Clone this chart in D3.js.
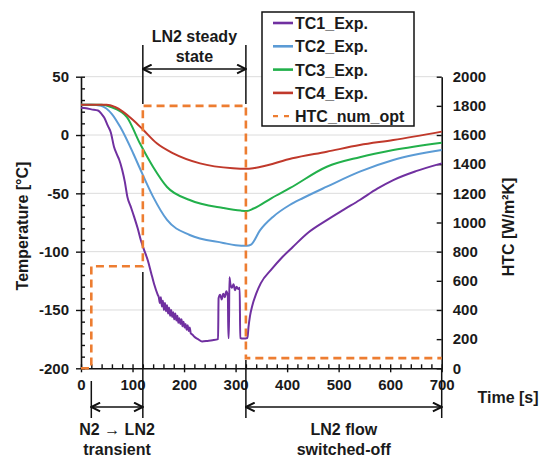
<!DOCTYPE html>
<html>
<head>
<meta charset="utf-8">
<script src="https://cdn.jsdelivr.net/npm/d3@7"></script>
<style>
  body { margin: 0; background: #fff; }
  text { font-family: "Liberation Sans", Arial, sans-serif; font-weight: bold; fill: #1a1a1a; }
</style>
</head>
<body>
<script>
// [time s, temperature degC]
var tc1 = [[0,23.4],[10,23],[20,22],[33,21],[40,18],[45,15],[52,8],[58,2],[64,-10],[70,-17],[74,-21],
  [80,-30],[85,-40],[90,-53],[97,-62],[103,-70],[110,-80],[116,-90],[122,-98],[130,-108],[136,-118],
  [142,-128],[149,-137],[151,-139],[153,-144],[155,-139],[157,-147],[159,-142],[161,-150],[163,-144],
  [165,-151],[167,-146],[169,-153],[171,-148],[173,-155],[175,-150],[177,-156],[179,-152],[181,-158],
  [183,-153],[185,-159],[187,-155],[189,-161],[191,-157],[193,-162],[195,-158],[197,-164],[199,-160],
  [201,-165],[203,-162],[205,-167],[207,-163],[209,-168],[211,-165],[213,-170],[216,-171],[220,-173],
  [227,-175],[235,-177],[246,-176.5],[255,-176],[266,-175],[267,-140],[270,-137],[273,-141],[276,-136],
  [279,-139],[282,-134],[285,-138],[286,-174],[287,-174],[288,-122],[290,-128],[293,-131],[296,-128],
  [299,-133],[302,-130],[305,-132],[308,-131],[309,-174],[315,-174.5],[323,-174],[325,-165],[328,-155],
  [332,-147],[340,-136],[349,-127],[370,-115],[390,-105],[411,-96],[440,-84],[477,-73],[510,-64],
  [541,-55.7],[575,-46],[606,-38.6],[650,-31],[700,-24.3]];
var tc2 = [[0,26],[20,26],[39,25],[60,18],[76,7],[101,-15.4],[114,-28.3],[140,-53],[167,-72.8],
  [211,-85.7],[276,-92.5],[300,-94.5],[322,-95],[330,-94],[347,-82],[373,-70],[405,-60],[431,-54],
  [477,-44.3],[541,-31.4],[606,-21.4],[700,-12.9]];
var tc3 = [[0,26],[40,26],[58,24],[89,15.4],[114,-6.9],[140,-27.4],[167,-44.6],[211,-55.7],
  [276,-62.6],[310,-64.8],[322,-65.1],[335,-63],[370,-54],[406,-45.4],[477,-27.2],[541,-19],
  [606,-12.9],[700,-6.6]];
var tc4 = [[0,26],[50,26],[66,24],[101,12.9],[121,4.3],[147,-7.1],[179,-15.7],[231,-24.3],
  [295,-28.5],[320,-29],[334,-28.5],[347,-27.5],[410,-20],[477,-14.3],[541,-8.6],[606,-4.3],[700,2.9]];
// HTC [W/m2K], secondary axis
var htc = [[0,0],[20,0],[20,700],[120,700],[120,1800],[320,1800],[320,70],[700,70]];

var names = ["TC1_Exp.", "TC2_Exp.", "TC3_Exp.", "TC4_Exp.", "HTC_num_opt"];
var colors = ["#7030a0", "#5b9bd5", "#22b04b", "#c0392b", "#ed7d31"];
var tempTicks = [-200, -150, -100, -50, 0, 50];
var htcTicks = [0, 200, 400, 600, 800, 1000, 1200, 1400, 1600, 1800, 2000];
var timeTicks = [0, 100, 200, 300, 400, 500, 600, 700];

var width = 543, height = 459;
var plotL = 81, plotR = 441.7, plotT = 76.7, plotB = 368.3;

var x = d3.scaleLinear().domain([0, 700]).range([plotL, plotR]);
var y = d3.scaleLinear().domain([-200, 50]).range([plotB, plotT]);
var y2 = d3.scaleLinear().domain([0, 2000]).range([plotB, plotT]);

var plain = function (d) { return String(d); };

var svg = d3.select('body').append('svg')
  .attr('width', width).attr('height', height);

var defs = svg.append('defs');
defs.append('marker')
  .attr('id', 'arr')
  .attr('viewBox', '0 0 10 10')
  .attr('refX', 9).attr('refY', 5)
  .attr('markerWidth', 11).attr('markerHeight', 11)
  .attr('markerUnits', 'userSpaceOnUse')
  .attr('orient', 'auto-start-reverse')
  .append('path')
  .attr('d', 'M1,1 L9,5 L1,9')
  .attr('fill', 'none').attr('stroke', '#111').attr('stroke-width', 1.8);

// gridlines
svg.append('g').selectAll('line')
  .data(tempTicks.filter(function (d) { return d > -200; }))
  .enter().append('line')
  .attr('x1', plotL).attr('x2', plotR)
  .attr('y1', function (d) { return y(d); })
  .attr('y2', function (d) { return y(d); })
  .attr('stroke', '#dcdcdc').attr('stroke-width', 1);

// left axis
var ax = svg.append('g').attr('transform', 'translate(' + plotL + ',0)');
ax.call(d3.axisLeft(y).tickValues(tempTicks).tickFormat(plain).tickSize(5).tickPadding(7).tickSizeOuter(0));
var axMinor = svg.append('g').attr('transform', 'translate(' + plotL + ',0)');
axMinor.call(d3.axisRight(y).tickValues(d3.range(-200, 51, 10)).tickSize(4).tickFormat(''));
axMinor.select('.domain').remove();

// bottom axis
var bx = svg.append('g').attr('transform', 'translate(0,' + plotB + ')');
bx.call(d3.axisBottom(x).tickValues(timeTicks).tickFormat(plain).tickSize(4).tickPadding(7).tickSizeOuter(0));
var bxMinor = svg.append('g').attr('transform', 'translate(0,' + plotB + ')');
bxMinor.call(d3.axisTop(x).tickValues(d3.range(0, 701, 20)).tickSize(4).tickFormat(''));
bxMinor.select('.domain').remove();

// right axis
var rx = svg.append('g').attr('transform', 'translate(' + plotR + ',0)');
rx.call(d3.axisRight(y2).tickValues(htcTicks).tickFormat(plain).tickSize(0).tickPadding(11).tickSizeOuter(0));
var rxTicks = svg.append('g').attr('transform', 'translate(' + plotR + ',0)');
rxTicks.call(d3.axisLeft(y2).tickValues(htcTicks).tickSize(5).tickFormat(''));
rxTicks.select('.domain').remove();

svg.selectAll('.domain').attr('stroke', '#111').attr('stroke-width', 1.6);
svg.selectAll('.tick line').attr('stroke', '#111').attr('stroke-width', 1.4);
svg.selectAll('.tick text')
  .style('font-family', '"Liberation Sans", Arial, sans-serif')
  .style('font-weight', 'bold').style('font-size', '15px').attr('fill', '#1a1a1a');

// series
var line = d3.line()
  .x(function (d) { return x(d[0]); })
  .y(function (d) { return y(d[1]); })
  .curve(d3.curveMonotoneX);

var series = [tc1, tc2, tc3, tc4];
svg.append('g').selectAll('path')
  .data(series)
  .enter().append('path')
  .attr('d', line)
  .attr('fill', 'none')
  .attr('stroke', function (d, i) { return colors[i]; })
  .attr('stroke-width', 2)
  .attr('stroke-linejoin', 'round');

var htcLine = d3.line()
  .x(function (d) { return x(d[0]); })
  .y(function (d) { return y2(d[1]); });

svg.append('path')
  .datum(htc)
  .attr('d', htcLine)
  .attr('fill', 'none')
  .attr('stroke', colors[4])
  .attr('stroke-width', 2.6)
  .attr('stroke-dasharray', '8,5');

// axis titles
svg.append('text')
  .attr('transform', 'translate(28,226) rotate(-90)')
  .style('text-anchor', 'middle').style('font-size', '16px')
  .text('Temperature [°C]');
svg.append('text')
  .attr('transform', 'translate(514,227) rotate(-90)')
  .style('text-anchor', 'middle').style('font-size', '16px')
  .text('HTC [W/m²K]');
svg.append('text')
  .attr('x', 508).attr('y', 403)
  .style('text-anchor', 'middle').style('font-size', '16px')
  .text('Time [s]');

// annotations
function vline(t, y1, yb) {
  svg.append('line')
    .attr('x1', x(t)).attr('x2', x(t)).attr('y1', y1).attr('y2', yb)
    .attr('stroke', '#111').attr('stroke-width', 1.5);
}
function arrow(t1, t2, yy) {
  svg.append('line')
    .attr('x1', x(t1)).attr('x2', x(t2)).attr('y1', yy).attr('y2', yy)
    .attr('stroke', '#111').attr('stroke-width', 1.5)
    .attr('marker-start', 'url(#arr)').attr('marker-end', 'url(#arr)');
}
function label(cx, cy, lines) {
  lines.forEach(function (s, i) {
    svg.append('text')
      .attr('x', cx).attr('y', cy + i * 20)
      .style('text-anchor', 'middle').style('font-size', '16px')
      .text(s);
  });
}

vline(120, 45, 104);
vline(320, 45, 104);
arrow(120, 320, 69);
label((x(120) + x(320)) / 2, 42, ['LN2 steady', 'state']);

vline(20, 381, 418);
vline(120, 272, 418);
vline(320, 360, 418);
vline(700, 368, 418);
arrow(20, 120, 407);
arrow(320, 700, 407);
label((x(20) + x(120)) / 2, 435, ['N2 \u2192 LN2', 'transient']);
label((x(320) + x(700)) / 2, 435, ['LN2 flow', 'switched-off']);

// legend
var lg = svg.append('g').attr('transform', 'translate(262,12)');
lg.append('rect')
  .attr('width', 152).attr('height', 114)
  .attr('fill', '#fff').attr('stroke', '#111').attr('stroke-width', 1.5);
var item = lg.selectAll('.item')
  .data(names)
  .enter().append('g')
  .attr('class', 'item')
  .attr('transform', function (d, i) { return 'translate(0,' + (11 + i * 23.3) + ')'; });
item.append('line')
  .attr('x1', 11).attr('x2', 31)
  .attr('stroke', function (d, i) { return colors[i]; })
  .attr('stroke-width', function (d, i) { return i == 4 ? 2.2 : 2.6; })
  .attr('stroke-dasharray', function (d, i) { return i == 4 ? '5,6' : null; });
item.append('text')
  .attr('x', 33).attr('y', 6)
  .style('font-size', '16px')
  .text(function (d) { return d; });
</script>
</body>
</html>
